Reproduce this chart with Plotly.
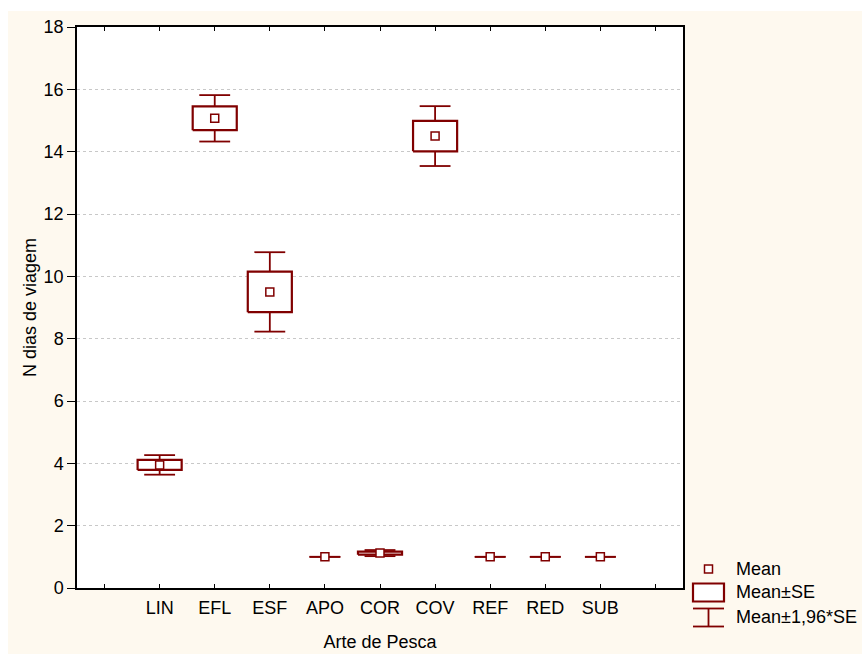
import numpy as np
import plotly.graph_objects as go

# ---- data ----
categories = ["LIN", "EFL", "ESF", "APO", "COR", "COV", "REF", "RED", "SUB"]
means = [3.95, 15.07, 9.50, 1.00, 1.12, 14.50, 1.00, 1.00, 1.00]
se = [0.16, 0.38, 0.65, 0.00, 0.05, 0.49, 0.00, 0.00, 0.00]
ci_factor = 1.96
y_ticks = [0, 2, 4, 6, 8, 10, 12, 14, 16, 18]
legend_labels = ["Mean", "Mean±SE", "Mean±1,96*SE"]

# ---- style ----
RED = "#800000"
CREAM = "#FEF9EF"
FONT = "Liberation Sans, Arial, sans-serif"
FS = 18
W, H = 862, 654
ML, MR, MT, MB = 77, 179, 27, 66
PW, PH = W - ML - MR, H - MT - MB
BOX_HALF = 0.40
CAP_HALF = 0.28

m = np.array(means)
s = np.array(se)
x = np.arange(1, len(categories) + 1)

fig = go.Figure()

# whiskers (mean±SE to mean±1.96*SE) with caps
wx, wy = [], []
for xi, mi, si in zip(x, m, s):
    lo, hi = mi - ci_factor * si, mi + ci_factor * si
    wx += [xi, xi, None, xi - CAP_HALF, xi + CAP_HALF, None,
           xi, xi, None, xi - CAP_HALF, xi + CAP_HALF, None]
    wy += [mi + si, hi, None, hi, hi, None,
           mi - si, lo, None, lo, lo, None]
fig.add_trace(go.Scatter(x=wx, y=wy, mode="lines",
                         line=dict(color=RED, width=1.8),
                         hoverinfo="skip", showlegend=False))

# boxes (mean±SE), only where SE > 0
bx, by = [], []
for xi, mi, si in zip(x, m, s):
    if si <= 0:
        continue
    bx += [xi - BOX_HALF, xi + BOX_HALF, xi + BOX_HALF, xi - BOX_HALF, xi - BOX_HALF, None]
    by += [mi - si, mi - si, mi + si, mi + si, mi - si, None]
fig.add_trace(go.Scatter(x=bx, y=by, mode="lines", fill="toself",
                         fillcolor="white", line=dict(color=RED, width=2.2),
                         hoverinfo="skip", showlegend=False))

# means
fig.add_trace(go.Scatter(x=x, y=m, mode="markers",
                         marker=dict(symbol="square", size=8, color="white",
                                     line=dict(color=RED, width=1.5)),
                         showlegend=False))

# ---- background: cream page with white plot area ----
def px_x(p):
    return (p - ML) / PW

def px_y(p):
    return (H - MB - p) / PH

shapes = [
    dict(type="rect", xref="paper", yref="paper", layer="below",
         x0=px_x(8), x1=px_x(W + 5), y0=px_y(H + 5), y1=px_y(11),
         fillcolor=CREAM, line=dict(width=0)),
    dict(type="rect", xref="paper", yref="paper", layer="below",
         x0=0, x1=1, y0=0, y1=1, fillcolor="white", line=dict(width=0)),
]

# ---- manual legend ----
lx0, lx1, lxc = 693, 724, 708.5
shapes += [
    dict(type="rect", xref="paper", yref="paper",
         x0=px_x(lxc - 4), x1=px_x(lxc + 4), y0=px_y(573), y1=px_y(565),
         fillcolor="white", line=dict(color=RED, width=1.5)),
    dict(type="rect", xref="paper", yref="paper",
         x0=px_x(lx0), x1=px_x(lx1), y0=px_y(601.5), y1=px_y(583.5),
         fillcolor="white", line=dict(color=RED, width=2.2)),
    dict(type="line", xref="paper", yref="paper",
         x0=px_x(lx0), x1=px_x(lx1), y0=px_y(608.5), y1=px_y(608.5),
         line=dict(color=RED, width=1.8)),
    dict(type="line", xref="paper", yref="paper",
         x0=px_x(lx0), x1=px_x(lx1), y0=px_y(626.5), y1=px_y(626.5),
         line=dict(color=RED, width=1.8)),
    dict(type="line", xref="paper", yref="paper",
         x0=px_x(lxc), x1=px_x(lxc), y0=px_y(608.5), y1=px_y(626.5),
         line=dict(color=RED, width=1.8)),
]
annotations = []
for lbl, yc in zip(legend_labels, [569, 592, 617]):
    annotations.append(dict(text=lbl, xref="paper", yref="paper",
                            x=px_x(734), y=px_y(yc), xanchor="left", yanchor="middle",
                            showarrow=False, font=dict(family=FONT, size=FS, color="black")))

tickvals = list(range(0, len(categories) + 2))
ticktext = [""] + categories + [""]

fig.update_layout(
    width=W, height=H,
    margin=dict(l=ML, r=MR, t=MT, b=MB, autoexpand=False),
    paper_bgcolor="white", plot_bgcolor="white",
    font=dict(family=FONT, size=FS, color="black"),
    shapes=shapes, annotations=annotations,
    showlegend=False,
    xaxis=dict(range=[-0.5, len(categories) + 1.5], tickvals=tickvals, ticktext=ticktext,
               ticks="inside", ticklen=4, tickwidth=1, tickcolor="black",
               showline=True, linecolor="black", linewidth=1.5, mirror="ticks",
               showgrid=False, zeroline=False, ticklabelstandoff=3,
               title=dict(text="Arte de Pesca", standoff=18, font=dict(size=FS)),
               tickfont=dict(size=FS)),
    yaxis=dict(range=[0, 18], tickvals=y_ticks,
               ticks="outside", ticklen=8, tickwidth=1, tickcolor="black",
               showline=True, linecolor="black", linewidth=1.5, mirror=True,
               showgrid=True, gridcolor="#c8c8c8", griddash="dot", gridwidth=1,
               zeroline=False,
               title=dict(text="N dias de viagem", standoff=2, font=dict(size=FS)),
               tickfont=dict(size=FS)),
)

fig.write_html("out.html")
